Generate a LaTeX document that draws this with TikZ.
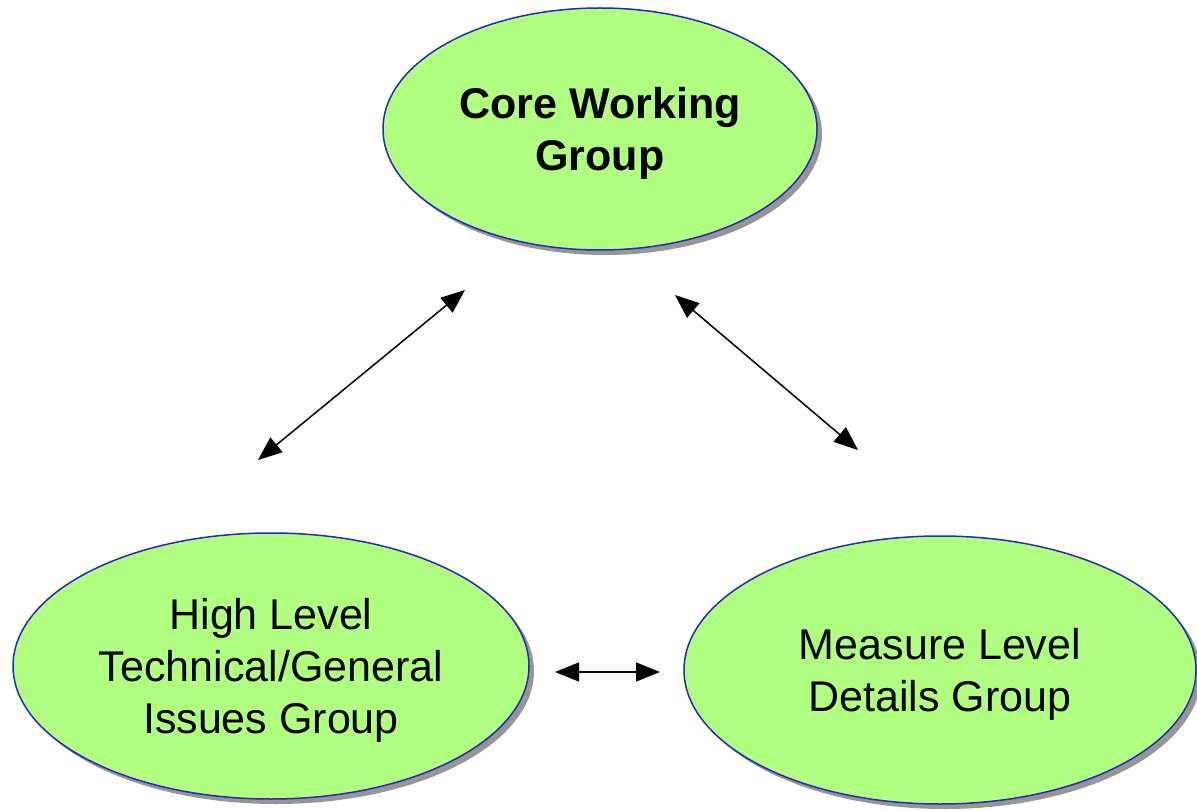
\documentclass[tikz,border=0pt]{standalone}
\usepackage{fontspec}
\setmainfont{Liberation Sans}
\usetikzlibrary{shapes.geometric}
\usetikzlibrary{shadows}
\usetikzlibrary{arrows.meta}
\definecolor{groupgreen}{RGB}{176,255,128}
\definecolor{groupblue}{RGB}{40,40,190}

\begin{document}
\begin{tikzpicture}[x=1pt,y=-1pt,
  group/.style={ellipse,draw=groupblue,line width=1.5pt,fill=groupgreen,inner sep=0pt,align=center,
    font=\fontsize{43}{52}\selectfont,text depth=0pt,
    drop shadow={shadow xshift=5pt,shadow yshift=-5pt,fill=black!55,opacity=0.75}},
  link/.style={line width=1.5pt,{Triangle[length=24pt,width=19pt]}-{Triangle[length=24pt,width=19pt]}}]
\useasboundingbox (0,0) rectangle (1197,810);

\node[group,minimum width=434pt,minimum height=242pt,font=\fontsize{43}{52}\selectfont\bfseries] (core) at (600,129) {Core Working\\Group};
\node[group,minimum width=516pt,minimum height=266pt] (high) at (271,666) {High Level\\Technical/General\\Issues Group};
\node[group,minimum width=512pt,minimum height=268pt] (measure) at (940,670) {Measure Level\\Details Group};

\coordinate (coreL) at (465,290);
\coordinate (highT) at (258,460);
\coordinate (coreR) at (675,295);
\coordinate (measT) at (858,450);
\coordinate (highR) at (555,672);
\coordinate (measL) at (660,672);

\draw[link] (highT) -- (coreL);
\draw[link] (coreR) -- (measT);
\draw[link] (highR) -- (measL);

\end{tikzpicture}
\end{document}
